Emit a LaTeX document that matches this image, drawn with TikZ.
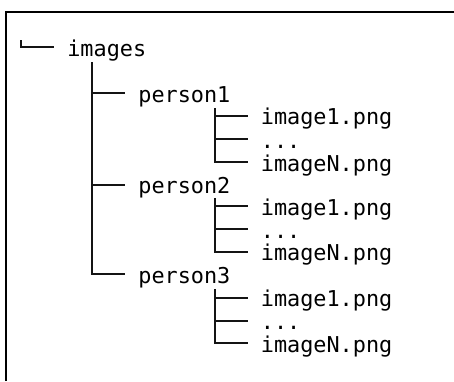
\documentclass[tikz,border=0pt]{standalone}
\usepackage{fontspec}
\setmonofont{DejaVu Sans Mono}
\begin{document}
\begin{tikzpicture}[x=1pt,y=-1pt,
  entry/.style={anchor=west, inner xsep=13.15pt, inner ysep=0pt,
    text height=18pt, text depth=0pt, text=black,
    font=\ttfamily\fontsize{21.84pt}{23pt}\selectfont},
  branch/.style={line width=2pt, draw=black!92},
  frame/.style={line width=2.2pt, draw=black}]
  \useasboundingbox (0,0) rectangle (454,381);

  % open frame: top and left edges only
  \draw[frame] (6,381) |- (454,12);

  % root folder
  \node[entry] (images) at (54,47) {images};
  \coordinate (rootTick) at (21,40);
  \draw[branch] (rootTick) |- (images.west);

  % person folders
  \node[entry] (p1) at (125,93) {person1};
  \node[entry] (p2) at (125,184.5) {person2};
  \node[entry] (p3) at (125,274) {person3};
  \coordinate (trunkTop) at (92,62);
  \draw[branch] (trunkTop) |- (p3.west);
  \draw[branch] (p1.west -| trunkTop) -- (p1.west);
  \draw[branch] (p2.west -| trunkTop) -- (p2.west);

  % files inside each person folder
  \foreach \p/\ya/\yb/\yc/\ytop in {1/115.5/139/162/108,
                                    2/206/229/251.5/198,
                                    3/297.5/320.5/343/289} {
    \node[entry] (p\p-a) at (247.5,\ya) {image1.png};
    \node[entry] (p\p-b) at (247.5,\yb) {...};
    \node[entry] (p\p-c) at (247.5,\yc) {imageN.png};
    \coordinate (p\p-top) at (215,\ytop);
    \draw[branch] (p\p-top) |- (p\p-c.west);
    \draw[branch] (p\p-a.west -| p\p-top) -- (p\p-a.west);
    \draw[branch] (p\p-b.west -| p\p-top) -- (p\p-b.west);
  }
\end{tikzpicture}
\end{document}
